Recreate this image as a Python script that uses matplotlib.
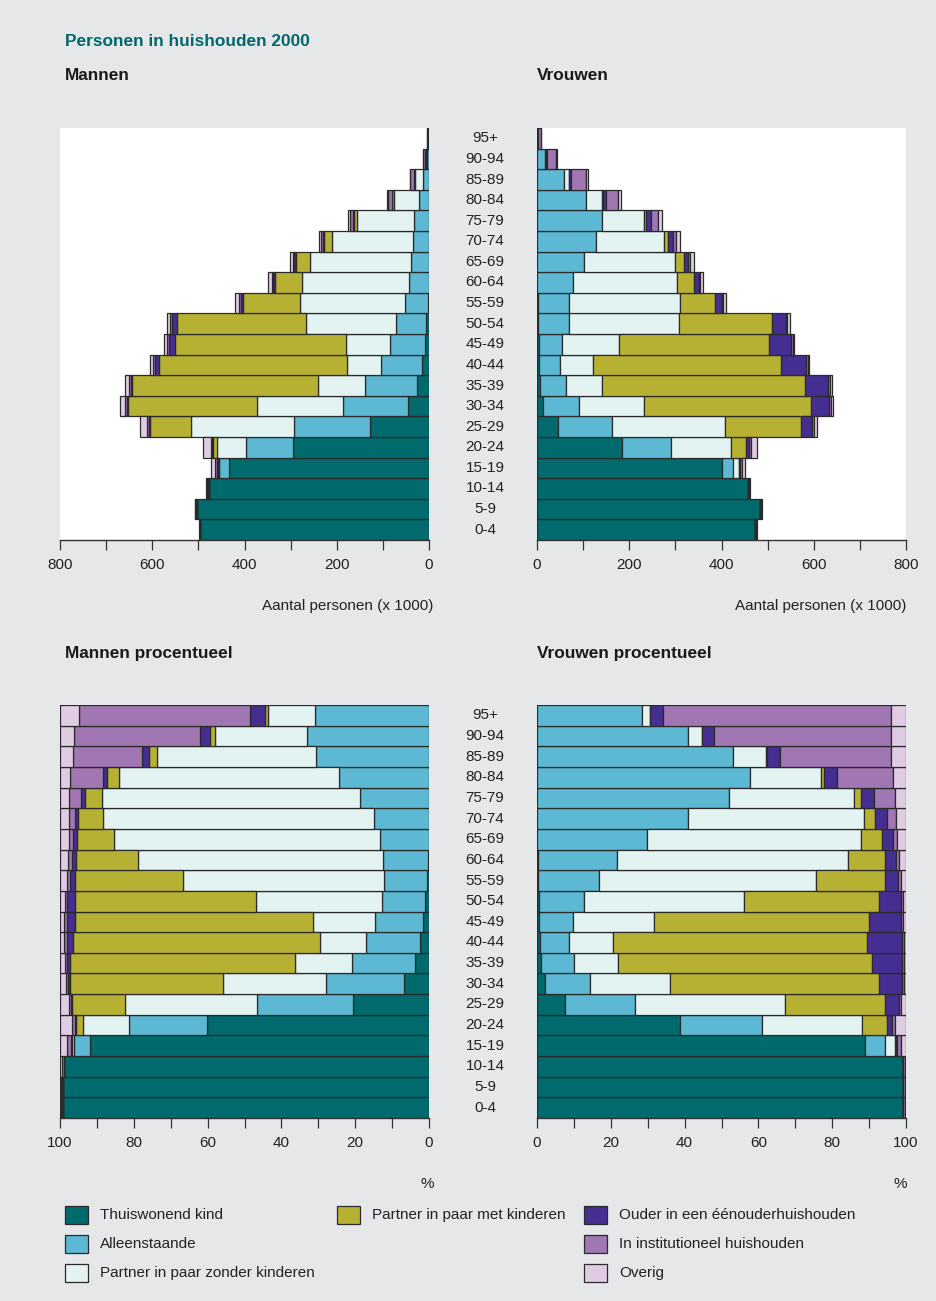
import matplotlib
matplotlib.use('Agg')
import matplotlib.pyplot as plt
from matplotlib.ticker import MultipleLocator
from matplotlib.patches import Rectangle
import matplotlib.transforms as mtransforms
import numpy as np

FONT = ['Liberation Sans', 'DejaVu Sans']
plt.rcParams['font.family'] = FONT

# ---------------- data ----------------
age_groups = ['0-4', '5-9', '10-14', '15-19', '20-24', '25-29', '30-34', '35-39',
              '40-44', '45-49', '50-54', '55-59', '60-64', '65-69', '70-74',
              '75-79', '80-84', '85-89', '90-94', '95+']

categories = ['Thuiswonend kind', 'Alleenstaande', 'Partner in paar zonder kinderen',
              'Partner in paar met kinderen', 'Ouder in een éénouderhuishouden',
              'In institutioneel huishouden', 'Overig']
colors = ['#006a6d', '#5cb8d3', '#e3f3f2', '#b7b133', '#452e91', '#a076b3', '#e0cce2']

# totals (x 1000)
men_total = [499, 508, 483, 473, 489, 626, 670, 660, 605, 575, 568, 420, 349, 302,
             239, 175, 91, 42, 13, 4]
women_total = [477, 487, 461, 451, 478, 608, 641, 639, 590, 558, 548, 409, 360, 340,
               310, 270, 183, 111, 43, 9]

# percentages per category, men
men_kind = [99.3, 99.1, 98.8, 91.9, 60.1, 20.6, 6.8, 3.8, 2.5, 1.6, 1.0, 0.6, 0.2, 0, 0, 0, 0, 0, 0, 0]
men_alleen = [0, 0, 0, 4.4, 21.2, 26.1, 21.1, 17.1, 14.6, 13.0, 11.7, 11.6, 12.3, 13.2, 14.9, 18.7, 24.3, 30.6, 33.0, 30.9]
men_zonder = [0, 0, 0, 0.4, 12.6, 35.7, 27.8, 15.5, 12.4, 16.8, 34.2, 54.5, 66.3, 72.2, 73.5, 70.0, 59.8, 43.1, 25.0, 12.8]
men_met = [0, 0, 0, 0.1, 1.8, 14.3, 41.7, 61.0, 67.1, 64.5, 49.1, 29.2, 16.9, 10.1, 6.6, 4.5, 3.2, 2.2, 1.4, 0.8]
men_ouder = [0.2, 0.3, 0.2, 0.2, 0.3, 0.2, 0.4, 0.6, 1.6, 2.3, 2.0, 1.4, 1.1, 1.1, 1.0, 1.2, 1.1, 2.0, 2.6, 3.9]
men_inst = [0.2, 0.3, 0.5, 1.1, 0.7, 0.7, 0.6, 0.7, 0.7, 0.7, 0.7, 0.9, 0.9, 1.0, 1.6, 3.2, 8.9, 18.7, 34.1, 46.4]
men_overig = [0.3, 0.3, 0.5, 1.9, 3.3, 2.4, 1.6, 1.3, 1.1, 1.1, 1.3, 1.8, 2.3, 2.4, 2.4, 2.4, 2.7, 3.4, 3.9, 5.2]

# percentages per category, women
women_kind = [99.2, 99.2, 99.1, 89.0, 38.7, 7.6, 2.1, 1.1, 0.7, 0.6, 0.5, 0.3, 0.2, 0, 0, 0, 0, 0, 0, 0]
women_alleen = [0, 0, 0, 5.4, 22.2, 19.0, 12.2, 8.8, 7.9, 9.2, 12.2, 16.5, 21.6, 29.7, 41.0, 52.1, 57.6, 53.2, 41.0, 28.4]
women_zonder = [0, 0, 0, 2.6, 27.2, 40.6, 21.8, 12.1, 12.1, 21.9, 43.3, 58.8, 62.5, 58.1, 47.5, 33.9, 19.5, 8.8, 3.6, 2.3]
women_met = [0, 0, 0, 0.3, 6.8, 27.0, 56.7, 68.8, 68.8, 58.4, 36.8, 18.6, 10.1, 5.8, 3.2, 1.7, 0.7, 0.2, 0, 0]
women_ouder = [0, 0, 0, 0.3, 1.4, 3.9, 6.1, 8.1, 9.3, 8.5, 5.8, 3.6, 3.0, 2.9, 3.1, 3.5, 3.6, 3.6, 3.3, 3.5]
women_inst = [0.4, 0.4, 0.5, 1.0, 0.7, 0.5, 0.5, 0.5, 0.7, 0.7, 0.5, 0.8, 0.6, 1.1, 2.5, 5.7, 15.0, 30.2, 48.0, 61.6]
women_overig = [0.4, 0.4, 0.4, 1.4, 3.0, 1.4, 0.6, 0.6, 0.5, 0.7, 0.9, 1.4, 2.0, 2.4, 2.7, 3.1, 3.6, 4.0, 4.1, 4.2]

men_pct = np.array([men_kind, men_alleen, men_zonder, men_met, men_ouder, men_inst, men_overig], float)
women_pct = np.array([women_kind, women_alleen, women_zonder, women_met, women_ouder, women_inst, women_overig], float)
men_pct = men_pct / men_pct.sum(axis=0) * 100
women_pct = women_pct / women_pct.sum(axis=0) * 100
men_abs = men_pct / 100 * np.array(men_total, float)
women_abs = women_pct / 100 * np.array(women_total, float)

# ---------------- figure ----------------
W, H = 936, 1301
BG = '#e6e7e9'
TXT = '#222222'
fig = plt.figure(figsize=(W / 100, H / 100), dpi=100, facecolor=BG)


def fx(px):
    return px / W


def fy(py):
    return 1 - py / H


def make_ax(x0, x1, y0, y1):
    ax = fig.add_axes([fx(x0), fy(y1), fx(x1 - x0), (y1 - y0) / H])
    ax.set_facecolor('white')
    return ax


ax_tl = make_ax(60, 429, 128, 540)
ax_tr = make_ax(537, 906, 128, 540)
ax_bl = make_ax(60, 429, 705, 1118)
ax_br = make_ax(537, 906, 705, 1118)

ypos = np.arange(len(age_groups))


def draw(ax, data, xmax, step_major, step_minor, invert):
    left = np.zeros(len(age_groups))
    for vals, col in zip(data, colors):
        ax.barh(ypos, vals, left=left, height=1.0, color=col,
                edgecolor='#2a2a2a', linewidth=0.9)
        left = left + vals
    if invert:
        ax.set_xlim(xmax, 0)
    else:
        ax.set_xlim(0, xmax)
    ax.set_ylim(-0.5, len(age_groups) - 0.5)
    ax.set_yticks([])
    for s in ['top', 'left', 'right']:
        ax.spines[s].set_visible(False)
    ax.spines['bottom'].set_color('#333333')
    ax.spines['bottom'].set_linewidth(1.0)
    ax.xaxis.set_major_locator(MultipleLocator(step_major))
    ax.xaxis.set_minor_locator(MultipleLocator(step_minor))
    ax.tick_params(axis='x', which='both', direction='out', length=7, width=0.9,
                   color='#333333', labelsize=11, labelcolor=TXT, pad=6)


draw(ax_tl, men_abs, 800, 200, 100, True)
draw(ax_tr, women_abs, 800, 200, 100, False)
draw(ax_bl, men_pct, 100, 20, 10, True)
draw(ax_br, women_pct, 100, 20, 10, False)

# age labels in the middle column
for ax in (ax_tl, ax_bl):
    trans = mtransforms.blended_transform_factory(fig.transFigure, ax.transData)
    for i, lab in enumerate(age_groups):
        ax.text(fx(485), i, lab, transform=trans, ha='center', va='center',
                fontsize=11, color=TXT)

# titles
fig.text(fx(65), fy(41), 'Personen in huishouden 2000', color='#00676b',
         fontweight='bold', fontsize=12.4, va='center', ha='left')
for (x, y, s) in [(65, 76, 'Mannen'), (537, 76, 'Vrouwen'),
                  (65, 653, 'Mannen procentueel'), (537, 653, 'Vrouwen procentueel')]:
    fig.text(fx(x), fy(y), s, fontweight='bold', fontsize=12.4, va='center',
             ha='left', color='#1a1a1a')

fig.text(fx(433), fy(606), 'Aantal personen (x 1000)', ha='right', va='center',
         fontsize=11, color=TXT)
fig.text(fx(906), fy(606), 'Aantal personen (x 1000)', ha='right', va='center',
         fontsize=11, color=TXT)
fig.text(fx(427), fy(1184), '%', ha='center', va='center', fontsize=11, color=TXT)
fig.text(fx(900), fy(1184), '%', ha='center', va='center', fontsize=11, color=TXT)

# legend
legend_layout = [(0, 65, 1215), (1, 65, 1244), (2, 65, 1273),
                 (3, 337, 1215), (4, 584, 1215), (5, 584, 1244), (6, 584, 1273)]
for idx, x, y in legend_layout:
    fig.patches.append(Rectangle((fx(x), fy(y + 9)), fx(23), 18 / H,
                                 transform=fig.transFigure, facecolor=colors[idx],
                                 edgecolor='#2a2a2a', linewidth=0.9))
    fig.text(fx(x + 35), fy(y), categories[idx], ha='left', va='center',
             fontsize=11, color=TXT)

fig.savefig('out.png', dpi=100, facecolor=BG)
